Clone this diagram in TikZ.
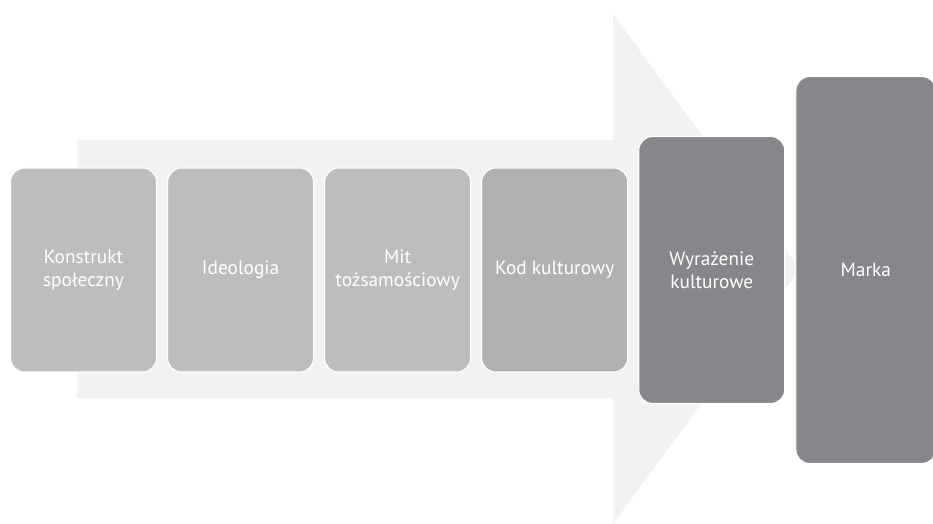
\documentclass[tikz,border=0pt]{standalone}
\usepackage{fontspec}
\setmainfont{PT Sans}
\usepackage{tikz}
\usepackage{xcolor}
\usetikzlibrary{positioning}
\definecolor{arrowgray}{HTML}{F2F2F2}
\definecolor{lightbox}{HTML}{BDBDC0}
\definecolor{midbox}{HTML}{B1B1B4}
\definecolor{darkbox}{HTML}{87868B}

\begin{document}
\begin{tikzpicture}[x=0.75pt,y=-0.75pt,
    stage/.style={rectangle,rounded corners=10.5pt,draw=white,line width=0.8pt,
        text=white,align=center,inner sep=2pt,font=\fontsize{14.5}{17}\selectfont},
    lightstage/.style={stage,fill=lightbox,minimum width=109.5pt,minimum height=153pt},
    node distance=7.5pt]
    \useasboundingbox (0,0) rectangle (933,524);
    \fill[arrowgray] (77,140)--(613,140)--(613,14)--(800,269)--(613,524)--(613,398)--(77,398)--cycle;
    \node[lightstage] (konstrukt) at (83.5,270) {Konstrukt\\społeczny};
    \node[lightstage,right=of konstrukt] (ideologia) {Ideologia};
    \node[lightstage,right=of ideologia] (mit) {Mit\\tożsamościowy};
    \node[lightstage,fill=midbox,right=of mit] (kod) {Kod kulturowy};
    \node[stage,fill=darkbox,minimum width=109.5pt,minimum height=200.25pt,right=of kod] (wyrazenie) {Wyrażenie\\kulturowe};
    \node[stage,fill=darkbox,minimum width=105pt,minimum height=290.25pt,right=of wyrazenie] (marka) {Marka};
\end{tikzpicture}
\end{document}
